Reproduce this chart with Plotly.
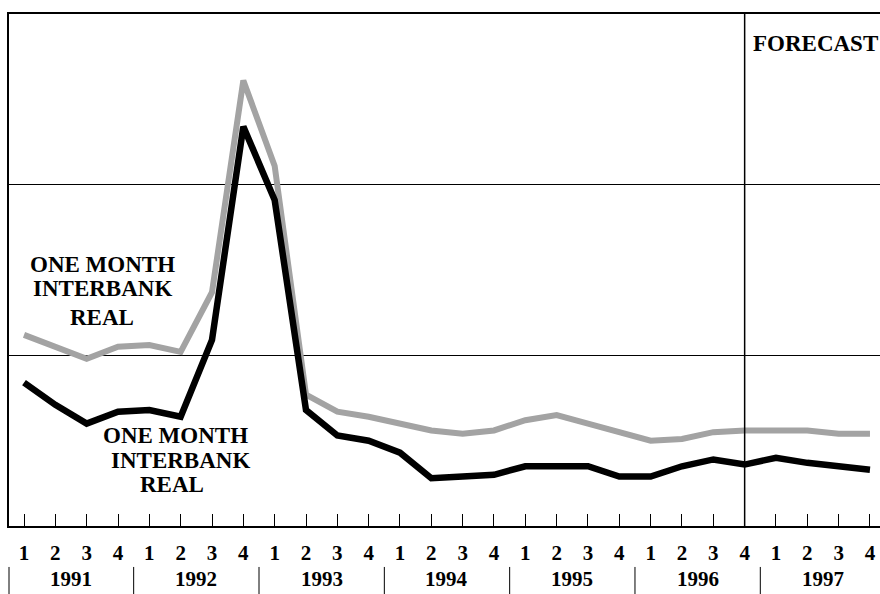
import plotly.graph_objects as go

# ---- data (quarterly, 1991Q1 .. 1997Q4) ----
years = ["1991", "1992", "1993", "1994", "1995", "1996", "1997"]
quarter_labels = ["1", "2", "3", "4"] * 7
quarter_pos = list(range(28))

black_series = [8.4, 7.1, 6.0, 6.7, 6.8, 6.4, 10.9, 23.4, 19.1, 6.8,
                5.3, 5.0, 4.3, 2.8, 2.9, 3.0, 3.5, 3.5, 3.5, 2.9,
                2.9, 3.5, 3.9, 3.6, 4.0, 3.7, 3.5, 3.3]
grey_series = [11.2, 10.5, 9.8, 10.5, 10.6, 10.2, 13.7, 26.1, 21.1, 7.7,
               6.7, 6.4, 6.0, 5.6, 5.4, 5.6, 6.2, 6.5, 6.0, 5.5,
               5.0, 5.1, 5.5, 5.6, 5.6, 5.6, 5.4, 5.4]
forecast_start = 23  # 1996 Q4
series_label = ["ONE MONTH", "INTERBANK", "REAL"]

FONT = "Liberation Serif, Times New Roman, serif"

fig = go.Figure()
fig.add_trace(go.Scatter(x=quarter_pos, y=grey_series, mode="lines",
                         line=dict(color="#a3a3a3", width=6), showlegend=False,
                         hoverinfo="skip"))
fig.add_trace(go.Scatter(x=quarter_pos, y=black_series, mode="lines",
                         line=dict(color="#000000", width=6.5), showlegend=False,
                         hoverinfo="skip"))

# forecast divider
fig.add_shape(type="line", xref="x", yref="paper", x0=forecast_start, x1=forecast_start,
              y0=0, y1=1, line=dict(color="black", width=1.5))
fig.add_annotation(x=forecast_start + 0.2, y=28.25, xref="x", yref="y",
                   text="<b>FORECAST</b>", showarrow=False, xanchor="left", yanchor="middle",
                   font=dict(family=FONT, size=23, color="black"))

# year separators and labels
for k, yr in enumerate(years):
    if k == 0:
        fig.add_shape(type="line", xref="paper", yref="paper", x0=0, x1=0,
                      y0=-0.080, y1=-0.135, line=dict(color="black", width=1))
    else:
        sx = 4 * k - 0.5
        fig.add_shape(type="line", xref="x", yref="paper", x0=sx, x1=sx,
                      y0=-0.080, y1=-0.135, line=dict(color="black", width=1))
    fig.add_annotation(x=4 * k + 1.5, y=-0.1035, xref="x", yref="paper",
                       text="<b>%s</b>" % yr, showarrow=False,
                       xanchor="center", yanchor="middle",
                       font=dict(family=FONT, size=21, color="black"))

# series labels
upper = [(2.49, 15.32), (2.49, 13.92), (2.49, 12.22)]
lower = [(4.82, 5.32), (5.01, 3.86), (4.72, 2.46)]
for (x, y), t in zip(upper + lower, series_label * 2):
    fig.add_annotation(x=x, y=y, xref="x", yref="y", text="<b>%s</b>" % t,
                       showarrow=False, xanchor="center", yanchor="middle",
                       font=dict(family=FONT, size=23, color="black"))

fig.update_layout(
    width=880, height=594,
    margin=dict(l=9, r=0, t=14, b=68),
    paper_bgcolor="white", plot_bgcolor="white",
    font=dict(family=FONT, color="black"),
    hovermode=False,
    xaxis=dict(range=[-0.479, 27.32], tickmode="array", tickvals=quarter_pos,
               ticktext=["<b>%s</b>" % q for q in quarter_labels],
               ticks="inside", ticklen=12, tickwidth=1, tickcolor="black",
               showline=True, linecolor="black", linewidth=1.5, mirror=True,
               showgrid=False, zeroline=False, ticklabelstandoff=7,
               tickfont=dict(family=FONT, size=21, color="black")),
    yaxis=dict(range=[0, 30], tickvals=[10, 20], showticklabels=False, ticks="",
               showgrid=True, gridcolor="black", gridwidth=1,
               showline=True, linecolor="black", linewidth=1.5,
               zeroline=False),
)

fig.write_html("out.html", config={"displayModeBar": False},
               post_script="document.body.style.margin='0';document.body.style.overflow='hidden';")
